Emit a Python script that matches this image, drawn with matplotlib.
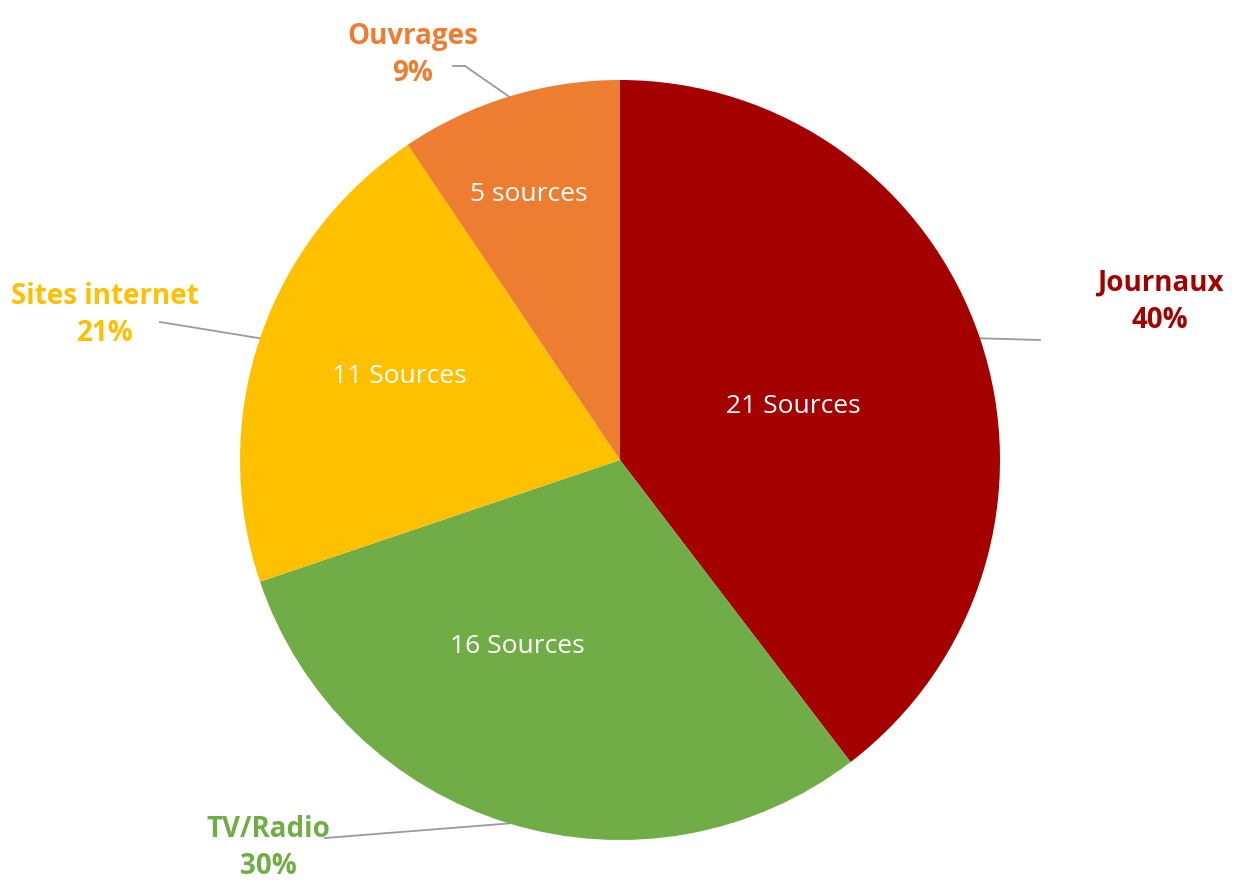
import numpy as np
import matplotlib.pyplot as plt

# donnees
categories = ["Journaux", "TV/Radio", "Sites internet", "Ouvrages"]
sources = [21, 16, 11, 5]
inner_labels = ["21 Sources", "16 Sources", "11 Sources", "5 sources"]
colors = ["#A50000", "#70AD47", "#FFC000", "#ED7D31"]

W, H = 1244, 882
cx, cy, R = 620, H - 460, 380

fig = plt.figure(figsize=(W / 100, H / 100), dpi=100)
ax = fig.add_axes([0, 0, 1, 1])

wedges, _ = ax.pie(sources, colors=colors, startangle=90, counterclock=False,
                   center=(cx, cy), radius=R, frame=True,
                   wedgeprops=dict(linewidth=0))
ax.set_xlim(0, W)
ax.set_ylim(0, H)
ax.set_aspect("equal")
ax.axis("off")

pct = np.array(sources) / sum(sources) * 100

# etiquettes interieures : (fraction du rayon, decalage d'angle en degres)
inner_pos = [(0.477, -1.4), (0.56, -12), (0.62, -2), (0.74, 2)]
# etiquettes exterieures (pixels depuis le haut) et coude de la ligne
outer_pos = [(1160, 302), (268, 848), (105, 315), (413, 55)]
elbow = [(1040, 340), (325, 838), (160, 322), (465, 66)]

for w, cat, p, lab, col, (ri, da), (ox, oy), (ex, ey) in zip(
        wedges, categories, pct, inner_labels, colors, inner_pos, outer_pos, elbow):
    mid = np.deg2rad((w.theta1 + w.theta2) / 2)
    t = mid + np.deg2rad(da)
    ax.text(cx + ri * R * np.cos(t), cy + ri * R * np.sin(t), lab,
            color="white", fontsize=19, ha="center", va="center",
            family="Open Sans")
    px, py = cx + R * np.cos(mid), cy + R * np.sin(mid)
    ax.plot([px, ex], [py, H - ey], color="#9a9a9a", lw=1.3, zorder=0.5)
    if cat == "Ouvrages":
        ax.plot([ex, ex - 12], [H - ey, H - ey], color="#9a9a9a", lw=1.3)
    ax.text(ox, H - oy, "{}\n{:.0f}%".format(cat, p), color=col,
            fontsize=20, fontweight="bold", ha="center", va="center",
            family="Open Sans", linespacing=1.4)

fig.savefig("out.png", dpi=100)
